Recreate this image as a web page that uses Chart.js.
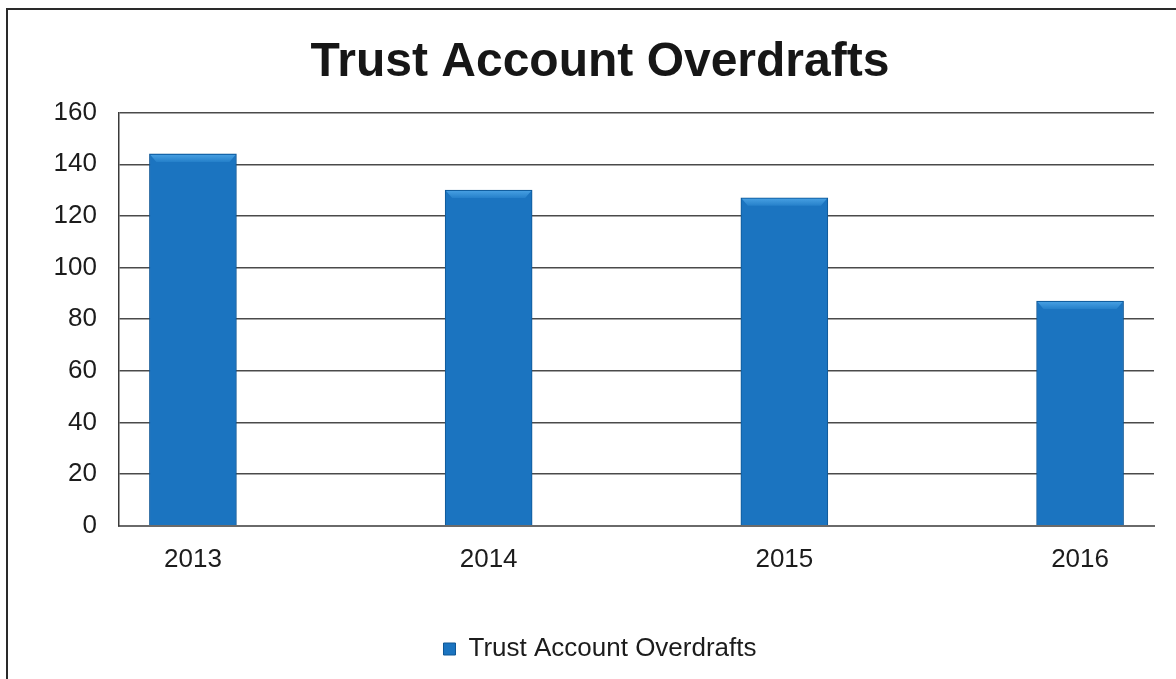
<!DOCTYPE html>
<html>
<head>
<meta charset="utf-8">
<script src="https://cdn.jsdelivr.net/npm/chart.js@4/dist/chart.umd.min.js"></script>
<style>
  html, body { margin: 0; padding: 0; background: #ffffff; }
  #wrap { position: relative; width: 1176px; height: 679px; overflow: hidden; background: #ffffff; }
  #frame { position: absolute; left: 6px; top: 8px; width: 1300px; height: 800px;
           border-left: 2px solid #2a2a2a; border-top: 2px solid #2a2a2a; }
  canvas { position: absolute; left: 0; top: 0; }
</style>
</head>
<body>
<div id="wrap">
  <div id="frame"></div>
  <canvas id="c" width="1200" height="679"></canvas>
</div>
<script>
// Yearly count of trust account overdrafts
const years = ['2013', '2014', '2015', '2016'];
const overdrafts = [144, 130, 127, 87];
const yTicks = [0, 20, 40, 60, 80, 100, 120, 140, 160];
const seriesName = 'Trust Account Overdrafts';

const FONT = '"Liberation Sans", Arial, sans-serif';
const TEXT = '#1c1c1c';

// Horizontal shading across each bar
function barFill(context) {
  const el = context.element;
  const chart = context.chart;
  if (!el || !chart.chartArea || el.width === undefined) return '#1b74c0';
  const x0 = el.x - el.width / 2, x1 = el.x + el.width / 2;
  if (!isFinite(x0) || !isFinite(x1) || x1 <= x0) return '#1b74c0';
  const g = chart.ctx.createLinearGradient(x0, 0, x1, 0);
  g.addColorStop(0, '#1463aa');
  g.addColorStop(0.12, '#1a70bb');
  g.addColorStop(0.5, '#1d76c1');
  g.addColorStop(0.88, '#1a70bb');
  g.addColorStop(1, '#1463aa');
  return g;
}

// Bevelled highlight along the top of each bar
const bevel = {
  id: 'bevel',
  afterDatasetsDraw(chart) {
    const ctx = chart.ctx;
    chart.getDatasetMeta(0).data.forEach(bar => {
      const l = bar.x - bar.width / 2, r = bar.x + bar.width / 2, t = bar.y;
      const h = 8;
      ctx.save();
      const g = ctx.createLinearGradient(0, t, 0, t + h);
      g.addColorStop(0, '#4aa2e4');
      g.addColorStop(1, '#2580ca');
      ctx.fillStyle = g;
      ctx.beginPath();
      ctx.moveTo(l + 1, t + 1);
      ctx.lineTo(r - 1, t + 1);
      ctx.lineTo(r - 7, t + h);
      ctx.lineTo(l + 7, t + h);
      ctx.closePath();
      ctx.fill();
      ctx.restore();
    });
  }
};

new Chart(document.getElementById('c'), {
  type: 'bar',
  data: {
    datasets: [{
      label: seriesName,
      data: overdrafts.map((v, i) => ({ x: i, y: v })),
      backgroundColor: barFill,
      borderColor: '#0f5795',
      borderWidth: 1,
      barThickness: 87
    }]
  },
  plugins: [bevel],
  options: {
    responsive: false,
    animation: false,
    devicePixelRatio: 1,
    layout: { padding: { left: 0, right: 0, top: 0, bottom: 7 } },
    plugins: {
      title: {
        display: true,
        text: seriesName,
        color: '#161616',
        font: { family: FONT, size: 48, weight: 'bold' },
        padding: { top: 34, bottom: 21 }
      },
      legend: {
        position: 'bottom',
        labels: {
          color: TEXT,
          font: { family: FONT, size: 26 },
          boxWidth: 12,
          boxHeight: 12,
          padding: 22,
          generateLabels: () => [{
            text: seriesName,
            fillStyle: '#1b74c0',
            strokeStyle: '#0f5795',
            lineWidth: 1,
            fontColor: TEXT,
            datasetIndex: 0
          }]
        },
        onClick: () => {}
      },
      tooltip: { enabled: false }
    },
    scales: {
      x: {
        type: 'linear',
        offset: false,
        min: -0.25,
        max: 3.25,
        afterBuildTicks: s => { s.ticks = years.map((_, i) => ({ value: i })); },
        afterFit: s => { s.height += 21; },
        ticks: {
          color: TEXT,
          font: { family: FONT, size: 26 },
          padding: 18,
          callback: v => years[v],
          maxRotation: 0
        },
        grid: { display: false, drawTicks: false },
        border: { display: true, color: '#6a6a6a', width: 2 }
      },
      y: {
        min: 0,
        max: 160,
        afterBuildTicks: s => { s.ticks = yTicks.map(v => ({ value: v })); },
        afterFit: s => { s.width = 119; },
        ticks: {
          color: TEXT,
          font: { family: FONT, size: 26 },
          padding: 22
        },
        grid: { color: '#4a4a4a', lineWidth: 1.5, drawTicks: false },
        border: { display: true, color: '#3a3a3a', width: 1.5 }
      },
      // empty right-hand margin axis (keeps the plot clear of the right edge)
      yRight: {
        position: 'right',
        min: 0,
        max: 160,
        afterFit: s => { s.width = 46; },
        ticks: { display: false },
        grid: { display: false, drawTicks: false },
        border: { display: false }
      }
    }
  }
});
</script>
</body>
</html>
